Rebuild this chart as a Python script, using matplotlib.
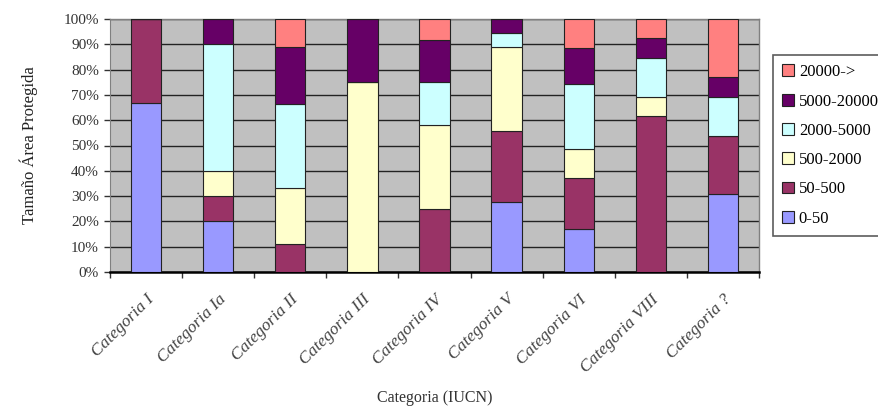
import matplotlib
matplotlib.use("Agg")
import matplotlib.pyplot as plt
import numpy as np

categories = ["Categoria I", "Categoria Ia", "Categoria II", "Categoria III",
              "Categoria IV", "Categoria V", "Categoria VI", "Categoria VIII",
              "Categoria ?"]

# Share of protected areas (%) by size class, per IUCN category
s_0_50 = [66.7, 20.0, 0.0, 0.0, 0.0, 27.8, 17.1, 0.0, 30.8]
s_50_500 = [33.3, 10.0, 11.1, 0.0, 25.0, 27.8, 20.0, 61.5, 23.1]
s_500_2000 = [0.0, 10.0, 22.2, 75.0, 33.3, 33.3, 11.4, 7.7, 0.0]
s_2000_5000 = [0.0, 50.0, 33.3, 0.0, 16.7, 5.6, 25.7, 15.4, 15.4]
s_5000_20000 = [0.0, 10.0, 22.2, 25.0, 16.7, 5.6, 14.3, 7.7, 7.7]
s_20000_up = [0.0, 0.0, 11.1, 0.0, 8.3, 0.0, 11.4, 7.7, 23.1]

series_labels = ["0-50", "50-500", "500-2000", "2000-5000", "5000-20000", "20000->"]
series_colors = ["#9999FF", "#993366", "#FFFFCC", "#CCFFFF", "#660066", "#FF8080"]
series = [s_0_50, s_50_500, s_500_2000, s_2000_5000, s_5000_20000, s_20000_up]

yticks = [0, 10, 20, 30, 40, 50, 60, 70, 80, 90, 100]
ytick_labels = [f"{v}%" for v in yticks]

plt.rcParams["font.family"] = ["Liberation Serif", "DejaVu Serif"]

fig = plt.figure(figsize=(8.79, 4.12), dpi=100)
ax = fig.add_axes([110 / 879, 140 / 412, 649 / 879, 253 / 412])
ax.set_facecolor("#C0C0C0")

x = np.arange(len(categories))
bottom = np.zeros(len(categories))
handles = []
for vals, lab, col in zip(series, series_labels, series_colors):
    vals = np.array(vals)
    b = ax.bar(x, vals, bottom=bottom, width=0.42, color=col,
               edgecolor="#222222", linewidth=0.8, label=lab, zorder=3)
    handles.append(b)
    bottom += vals

ax.set_xlim(-0.5, len(categories) - 0.5)
ax.set_ylim(0, 100)
ax.set_yticks(yticks)
ax.set_yticklabels(ytick_labels, fontsize=11, color="#333333")
ax.yaxis.grid(True, color="#222222", linewidth=1.0, zorder=1)
ax.set_axisbelow(True)

# tick marks at category boundaries, labels at category centres
ax.set_xticks(np.arange(-0.5, len(categories)), minor=False)
ax.set_xticklabels([""] * (len(categories) + 1))
ax.set_xticks(x, minor=True)
ax.set_xticklabels(categories, minor=True, rotation=45, ha="right",
                   va="top", rotation_mode="anchor", fontsize=12.5,
                   style="italic", color="#444444")
ax.tick_params(axis="x", which="minor", length=0, pad=14)
ax.tick_params(axis="x", which="major", length=4, width=1, color="#333333")
ax.tick_params(axis="y", length=4, width=1, color="#333333", pad=4)

for side in ["top", "right"]:
    ax.spines[side].set_color("#808080")
    ax.spines[side].set_linewidth(1.0)
ax.spines["left"].set_color("#808080")
ax.spines["bottom"].set_color("black")
ax.spines["bottom"].set_linewidth(1.8)

ax.set_ylabel("Tamaño Área Protegida", fontsize=12, labelpad=18,
              color="#222222")
ax.xaxis.set_label_coords(0.5, -0.465)
ax.set_xlabel("Categoria (IUCN)", fontsize=11.5, color="#333333")

leg = fig.legend(handles[::-1], series_labels[::-1], loc="upper left",
                 bbox_to_anchor=(773 / 879, 1 - 55 / 412), frameon=True,
                 fancybox=False, fontsize=12, handlelength=0.7,
                 handleheight=0.7, handletextpad=0.3, labelspacing=0.8,
                 borderpad=0.55, borderaxespad=0)
leg.get_frame().set_edgecolor("#333333")
leg.get_frame().set_linewidth(1.2)

fig.savefig("out.png", dpi=100)
